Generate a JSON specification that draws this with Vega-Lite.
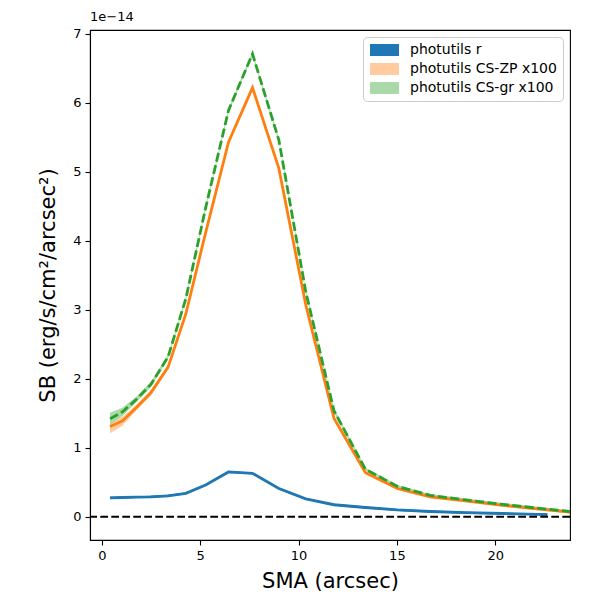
{
  "$schema": "https://vega.github.io/schema/vega-lite/v6.json",
  "width": 480,
  "height": 510,
  "autosize": {"type": "none"},
  "padding": {"left": 90, "top": 30, "right": 30, "bottom": 60},
  "background": "white",
  "config": {
    "font": "DejaVu Sans",
    "view": {"stroke": "black", "strokeWidth": 1.1},
    "axis": {
      "grid": false,
      "domainColor": "black",
      "domainWidth": 1.1,
      "tickColor": "black",
      "tickWidth": 1.1,
      "tickSize": 5,
      "labelColor": "black",
      "labelFontSize": 13,
      "labelFont": "DejaVu Sans",
      "titleFont": "DejaVu Sans",
      "titleFontSize": 21,
      "titleFontWeight": "normal",
      "titleColor": "black"
    },
    "legend": {
      "labelFont": "DejaVu Sans",
      "labelFontSize": 14,
      "labelColor": "black"
    }
  },
  "title": {
    "text": "1e\u221214",
    "anchor": "start",
    "frame": "group",
    "fontSize": 13,
    "fontWeight": "normal",
    "font": "DejaVu Sans",
    "color": "black",
    "offset": 4
  },
  "datasets": {
    "profiles": [
      {"sma": 0.42, "series": "photutils r", "sb": 0.276, "lo": 0.262, "hi": 0.29},
      {"sma": 1.05, "series": "photutils r", "sb": 0.28, "lo": 0.266, "hi": 0.294},
      {"sma": 1.75, "series": "photutils r", "sb": 0.285, "lo": 0.271, "hi": 0.299},
      {"sma": 2.5, "series": "photutils r", "sb": 0.29, "lo": 0.276, "hi": 0.304},
      {"sma": 3.37, "series": "photutils r", "sb": 0.305, "lo": 0.291, "hi": 0.319},
      {"sma": 4.27, "series": "photutils r", "sb": 0.34, "lo": 0.326, "hi": 0.354},
      {"sma": 5.28, "series": "photutils r", "sb": 0.46, "lo": 0.446, "hi": 0.474},
      {"sma": 6.44, "series": "photutils r", "sb": 0.65, "lo": 0.636, "hi": 0.664},
      {"sma": 7.66, "series": "photutils r", "sb": 0.63, "lo": 0.616, "hi": 0.644},
      {"sma": 9.0, "series": "photutils r", "sb": 0.41, "lo": 0.396, "hi": 0.424},
      {"sma": 10.37, "series": "photutils r", "sb": 0.26, "lo": 0.246, "hi": 0.274},
      {"sma": 11.8, "series": "photutils r", "sb": 0.175, "lo": 0.161, "hi": 0.189},
      {"sma": 13.4, "series": "photutils r", "sb": 0.135, "lo": 0.121, "hi": 0.149},
      {"sma": 15.03, "series": "photutils r", "sb": 0.1, "lo": 0.086, "hi": 0.114},
      {"sma": 16.7, "series": "photutils r", "sb": 0.077, "lo": 0.063, "hi": 0.091},
      {"sma": 18.5, "series": "photutils r", "sb": 0.06, "lo": 0.046, "hi": 0.074},
      {"sma": 20.4, "series": "photutils r", "sb": 0.048, "lo": 0.034, "hi": 0.062},
      {"sma": 22.65, "series": "photutils r", "sb": 0.033, "lo": 0.019, "hi": 0.047},

      {"sma": 0.42, "series": "photutils CS-ZP x100", "sb": 1.31, "lo": 1.21, "hi": 1.38},
      {"sma": 1.05, "series": "photutils CS-ZP x100", "sb": 1.39, "lo": 1.32, "hi": 1.45},
      {"sma": 1.75, "series": "photutils CS-ZP x100", "sb": 1.58, "lo": 1.54, "hi": 1.62},
      {"sma": 2.5, "series": "photutils CS-ZP x100", "sb": 1.8, "lo": 1.76, "hi": 1.84},
      {"sma": 3.37, "series": "photutils CS-ZP x100", "sb": 2.17, "lo": 2.14, "hi": 2.2},
      {"sma": 4.27, "series": "photutils CS-ZP x100", "sb": 2.94, "lo": 2.91, "hi": 2.97},
      {"sma": 5.28, "series": "photutils CS-ZP x100", "sb": 4.12, "lo": 4.09, "hi": 4.15},
      {"sma": 6.44, "series": "photutils CS-ZP x100", "sb": 5.43, "lo": 5.4, "hi": 5.46},
      {"sma": 7.66, "series": "photutils CS-ZP x100", "sb": 6.22, "lo": 6.19, "hi": 6.25},
      {"sma": 9.0, "series": "photutils CS-ZP x100", "sb": 5.05, "lo": 5.02, "hi": 5.08},
      {"sma": 10.37, "series": "photutils CS-ZP x100", "sb": 3.07, "lo": 3.04, "hi": 3.1},
      {"sma": 11.8, "series": "photutils CS-ZP x100", "sb": 1.43, "lo": 1.4, "hi": 1.46},
      {"sma": 13.4, "series": "photutils CS-ZP x100", "sb": 0.64, "lo": 0.62, "hi": 0.66},
      {"sma": 15.03, "series": "photutils CS-ZP x100", "sb": 0.41, "lo": 0.39, "hi": 0.43},
      {"sma": 16.7, "series": "photutils CS-ZP x100", "sb": 0.29, "lo": 0.27, "hi": 0.31},
      {"sma": 18.5, "series": "photutils CS-ZP x100", "sb": 0.23, "lo": 0.21, "hi": 0.25},
      {"sma": 20.4, "series": "photutils CS-ZP x100", "sb": 0.165, "lo": 0.145, "hi": 0.185},
      {"sma": 22.65, "series": "photutils CS-ZP x100", "sb": 0.1, "lo": 0.08, "hi": 0.12},
      {"sma": 24.9, "series": "photutils CS-ZP x100", "sb": 0.04, "lo": 0.02, "hi": 0.06},

      {"sma": 0.42, "series": "photutils CS-gr x100", "sb": 1.42, "lo": 1.33, "hi": 1.51},
      {"sma": 1.05, "series": "photutils CS-gr x100", "sb": 1.52, "lo": 1.46, "hi": 1.58},
      {"sma": 1.75, "series": "photutils CS-gr x100", "sb": 1.7, "lo": 1.66, "hi": 1.74},
      {"sma": 2.5, "series": "photutils CS-gr x100", "sb": 1.92, "lo": 1.88, "hi": 1.96},
      {"sma": 3.37, "series": "photutils CS-gr x100", "sb": 2.32, "lo": 2.29, "hi": 2.35},
      {"sma": 4.27, "series": "photutils CS-gr x100", "sb": 3.16, "lo": 3.13, "hi": 3.19},
      {"sma": 5.28, "series": "photutils CS-gr x100", "sb": 4.48, "lo": 4.45, "hi": 4.51},
      {"sma": 6.44, "series": "photutils CS-gr x100", "sb": 5.89, "lo": 5.86, "hi": 5.92},
      {"sma": 7.66, "series": "photutils CS-gr x100", "sb": 6.71, "lo": 6.68, "hi": 6.74},
      {"sma": 9.0, "series": "photutils CS-gr x100", "sb": 5.46, "lo": 5.43, "hi": 5.49},
      {"sma": 10.37, "series": "photutils CS-gr x100", "sb": 3.26, "lo": 3.23, "hi": 3.29},
      {"sma": 11.8, "series": "photutils CS-gr x100", "sb": 1.54, "lo": 1.51, "hi": 1.57},
      {"sma": 13.4, "series": "photutils CS-gr x100", "sb": 0.69, "lo": 0.67, "hi": 0.71},
      {"sma": 15.03, "series": "photutils CS-gr x100", "sb": 0.44, "lo": 0.42, "hi": 0.46},
      {"sma": 16.7, "series": "photutils CS-gr x100", "sb": 0.31, "lo": 0.29, "hi": 0.33},
      {"sma": 18.5, "series": "photutils CS-gr x100", "sb": 0.245, "lo": 0.225, "hi": 0.265},
      {"sma": 20.4, "series": "photutils CS-gr x100", "sb": 0.18, "lo": 0.16, "hi": 0.2},
      {"sma": 22.65, "series": "photutils CS-gr x100", "sb": 0.11, "lo": 0.09, "hi": 0.13},
      {"sma": 24.9, "series": "photutils CS-gr x100", "sb": 0.045, "lo": 0.025, "hi": 0.065}
    ],
    "zero": [{"y": 0}]
  },
  "data": {"name": "profiles"},
  "layer": [
    {
      "mark": {"type": "area", "clip": true},
      "encoding": {
        "x": {
          "field": "sma",
          "type": "quantitative",
          "title": "SMA (arcsec)",
          "scale": {"domain": [-0.6, 23.8], "nice": false, "zero": false},
          "axis": {"values": [0, 5, 10, 15, 20], "format": "d", "titlePadding": 8, "labelPadding": 4}
        },
        "y": {
          "field": "lo",
          "type": "quantitative",
          "title": "SB (erg/s/cm\u00b2/arcsec\u00b2)",
          "scale": {"domain": [-0.336, 7.056], "nice": false, "zero": false},
          "axis": {"values": [0, 1, 2, 3, 4, 5, 6, 7], "format": "d", "titlePadding": 14, "labelPadding": 4}
        },
        "y2": {"field": "hi"},
        "color": {
          "field": "series",
          "type": "nominal",
          "scale": {
            "domain": ["photutils r", "photutils CS-ZP x100", "photutils CS-gr x100"],
            "range": ["#1f77b4", "#ffcb9f", "#aad9aa"]
          },
          "legend": {
            "title": null,
            "orient": "top-right",
            "offset": 7,
            "padding": 6,
            "strokeColor": "#cccccc",
            "fillColor": "white",
            "cornerRadius": 4,
            "symbolType": "M-1,-1L3.83,-1L3.83,1L-1,1Z",
            "symbolSize": 144,
            "symbolStrokeWidth": 0,
            "symbolOpacity": 1,
            "rowPadding": 5,
            "labelOffset": 27
          }
        }
      }
    },
    {
      "transform": [{"filter": "datum.series === 'photutils r'"}],
      "mark": {"type": "line", "clip": true, "color": "#1f77b4", "strokeWidth": 2.8},
      "encoding": {
        "x": {"field": "sma", "type": "quantitative"},
        "y": {"field": "sb", "type": "quantitative"}
      }
    },
    {
      "transform": [{"filter": "datum.series === 'photutils CS-ZP x100'"}],
      "mark": {"type": "line", "clip": true, "color": "#ff7f0e", "strokeWidth": 2.8},
      "encoding": {
        "x": {"field": "sma", "type": "quantitative"},
        "y": {"field": "sb", "type": "quantitative"}
      }
    },
    {
      "transform": [{"filter": "datum.series === 'photutils CS-gr x100'"}],
      "mark": {"type": "line", "clip": true, "color": "#2ca02c", "strokeWidth": 2.8, "strokeDash": [9, 3.5]},
      "encoding": {
        "x": {"field": "sma", "type": "quantitative"},
        "y": {"field": "sb", "type": "quantitative"}
      }
    },
    {
      "data": {"name": "zero"},
      "mark": {"type": "rule", "color": "black", "strokeWidth": 2, "strokeDash": [7.7, 3.3]},
      "encoding": {"y": {"field": "y", "type": "quantitative"}}
    }
  ]
}
